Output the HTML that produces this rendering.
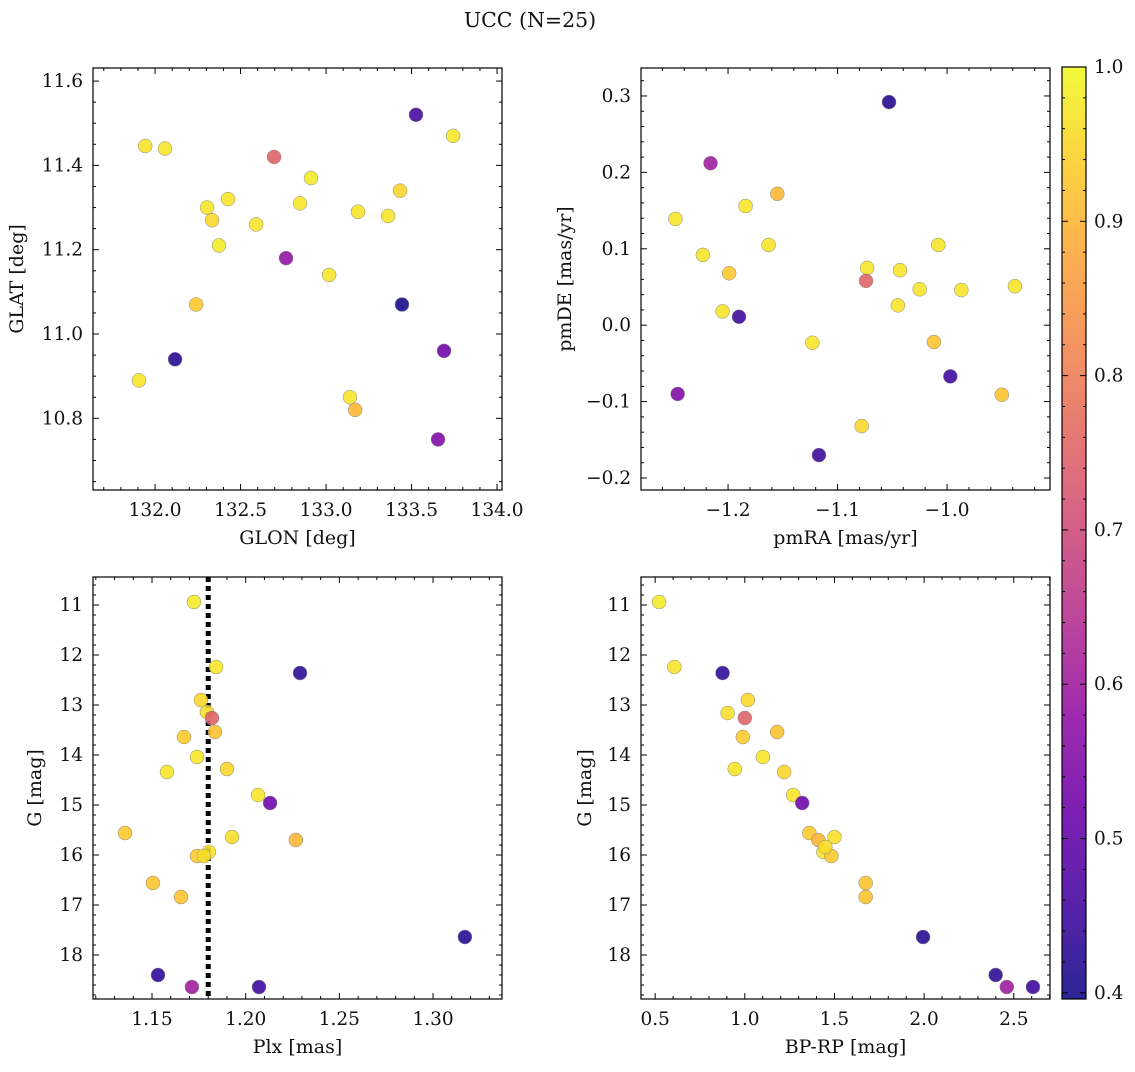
<!DOCTYPE html>
<html><head><meta charset="utf-8">
<style>
body{margin:0;background:#fff;}
svg text{font-family:"DejaVu Serif","Liberation Serif",serif;fill:#111;}
</style></head>
<body>
<svg id="fig" width="1135" height="1067" xmlns="http://www.w3.org/2000/svg">
<text x="530" y="27" font-size="20.5" text-anchor="middle">UCC (N=25)</text>
</svg>
<script>
// ---- data ----
const glon=[131.906,131.942,132.117,132.058,132.304,132.333,132.374,132.240,132.427,132.591,132.696,132.766,132.848,132.912,133.018,133.140,133.170,133.187,133.363,133.433,133.444,133.526,133.690,133.655,133.743];
const glat=[10.89,11.446,10.94,11.44,11.30,11.27,11.21,11.07,11.32,11.26,11.42,11.18,11.31,11.37,11.14,10.85,10.82,11.29,11.28,11.34,11.07,11.52,10.96,10.75,11.47];
const probPos=[0.97,0.97,0.42,0.97,0.97,0.95,0.98,0.93,0.97,0.97,0.75,0.58,0.97,0.98,0.97,0.97,0.90,0.97,0.97,0.95,0.40,0.46,0.52,0.55,0.97];
const pmra=[-1.248,-1.223,-1.199,-1.205,-1.216,-1.246,-1.190,-1.184,-1.155,-1.163,-1.123,-1.117,-1.073,-1.074,-1.078,-1.053,-1.043,-1.045,-1.025,-1.008,-1.012,-0.997,-0.987,-0.950,-0.938];
const pmde=[0.139,0.092,0.068,0.018,0.212,-0.090,0.011,0.156,0.172,0.105,-0.023,-0.170,0.075,0.058,-0.132,0.292,0.072,0.026,0.047,0.105,-0.022,-0.067,0.046,-0.091,0.051];
const probPm=[0.97,0.97,0.93,0.97,0.60,0.55,0.45,0.97,0.90,0.97,0.97,0.45,0.97,0.75,0.95,0.42,0.97,0.97,0.97,0.97,0.92,0.45,0.97,0.92,0.97];
const plx=[1.1724,1.1842,1.2290,1.1761,1.1793,1.1820,1.1836,1.1671,1.1740,1.1580,1.1900,1.2066,1.2130,1.1356,1.1927,1.2268,1.1804,1.1740,1.1777,1.1505,1.1655,1.3170,1.1532,1.1713,1.2071];
const gmag=[10.94,12.24,12.36,12.90,13.14,13.26,13.54,13.64,14.04,14.34,14.28,14.80,14.96,15.56,15.64,15.70,15.94,16.02,16.02,16.56,16.84,17.64,18.40,18.64,18.64];
const probCmd=[0.98,0.97,0.43,0.95,0.96,0.75,0.92,0.93,0.97,0.97,0.95,0.97,0.52,0.93,0.96,0.90,0.97,0.93,0.96,0.92,0.92,0.42,0.43,0.60,0.45];
const bprp=[0.522,0.607,0.876,1.017,0.904,1.000,1.180,0.989,1.101,0.944,1.219,1.270,1.320,1.360,1.500,1.410,1.438,1.483,1.449,1.674,1.674,1.994,2.399,2.461,2.607];
const gmag2=[10.94,12.24,12.36,12.90,13.16,13.26,13.54,13.64,14.04,14.28,14.34,14.80,14.96,15.56,15.64,15.70,15.94,16.02,15.84,16.56,16.84,17.64,18.40,18.64,18.64];
const plxLine=[1.18];
const cbTicks=[0.4,0.5,0.6,0.7,0.8,0.9,1.0];

const NS="http://www.w3.org/2000/svg";
const svg=document.getElementById('fig');
function mk(t,a,p){const e=document.createElementNS(NS,t);for(const k in a)e.setAttribute(k,a[k]);(p||svg).appendChild(e);return e;}
const stops=[[0,13,8,135],[0.1,65,4,157],[0.2,106,0,168],[0.3,143,13,164],[0.4,177,42,144],[0.5,204,71,120],[0.6,225,100,98],[0.7,242,132,75],[0.8,252,166,54],[0.9,252,206,37],[1,240,249,33]];
function plasma(t){t=Math.max(0,Math.min(1,t));for(let i=1;i<stops.length;i++){if(t<=stops[i][0]){const a=stops[i-1],b=stops[i],f=(t-a[0])/(b[0]-a[0]);return `rgb(${Math.round(a[1]+f*(b[1]-a[1]))},${Math.round(a[2]+f*(b[2]-a[2]))},${Math.round(a[3]+f*(b[3]-a[3]))})`;}}return 'rgb(240,249,33)';}
const vmin=0.396,vmax=1.0;
function col(p){return plasma((p-vmin)/(vmax-vmin));}
function fmt(v,d){let s=v.toFixed(d);if(s==='-0.0')s='0.0';if(s.startsWith('-'))s='\u2212'+s.slice(1);return s;}

function panel(o){
  const {x0,y0,x1,y1,xmin,xmax,ymin,ymax,inv}=o;
  const g=mk('g',{});
  
  
  const sx=v=>x0+(v-xmin)/(xmax-xmin)*(x1-x0);
  const sy=v=>inv? y0+(v-ymin)/(ymax-ymin)*(y1-y0) : y1-(v-ymin)/(ymax-ymin)*(y1-y0);
  const nsx=Math.round(o.xmaj/o.xminor), nsy=Math.round(o.ymaj/o.yminor);
  for(let k=Math.ceil(xmin/o.xminor-1e-6);k*o.xminor<=xmax+1e-9;k++){
    const v=k*o.xminor;const X=sx(v);const maj=(k%nsx===0);const L=maj?6:3;
    mk('line',{x1:X,x2:X,y1:y1,y2:y1-L,stroke:'#000','stroke-width':1},g);
    mk('line',{x1:X,x2:X,y1:y0,y2:y0+L,stroke:'#000','stroke-width':1},g);
    if(maj){const t=mk('text',{x:X,y:y1+26,'font-size':18.5,'text-anchor':'middle'},g);t.textContent=fmt(v,o.xd);
      
      }
  }
  for(let k=Math.ceil(ymin/o.yminor-1e-6);k*o.yminor<=ymax+1e-9;k++){
    const v=k*o.yminor;const Y=sy(v);const maj=(k%nsy===0);const L=maj?6:3;
    mk('line',{x1:x0,x2:x0+L,y1:Y,y2:Y,stroke:'#000','stroke-width':1},g);
    mk('line',{x1:x1,x2:x1-L,y1:Y,y2:Y,stroke:'#000','stroke-width':1},g);
    if(maj){const t=mk('text',{x:x0-10,y:Y+6,'font-size':18.5,'text-anchor':'end'},g);t.textContent=fmt(v,o.yd);
      
      }
  }
  if(o.vline){o.vline.forEach(v=>{const l=mk('line',{x1:sx(v),x2:sx(v),y1:y0,y2:y1,stroke:'#000','stroke-width':5,'stroke-dasharray':'5,4'},g);
    
    });}
  o.xs.forEach((xv,i)=>{const c=mk('circle',{cx:sx(xv),cy:sy(o.ys[i]),r:7,fill:col(o.ps[i]),'fill-opacity':0.88,stroke:'#888','stroke-width':0.5},g);
    
    });
  const fr=mk('rect',{x:x0,y:y0,width:x1-x0,height:y1-y0,fill:'none',stroke:'#000','stroke-width':1.2},g);
  
  
  const xl=mk('text',{x:(x0+x1)/2,y:y1+54,'font-size':19,'text-anchor':'middle'},g);xl.textContent=o.xlabel;
  
  
  const cy=(y0+y1)/2;
  const yl=mk('text',{x:o.ylx,y:cy,'font-size':19,'text-anchor':'middle',transform:`rotate(-90 ${o.ylx} ${cy})`},g);yl.textContent=o.ylabel;
  
  
}

panel({name:'glon-glat-panel',x0:93,y0:68,x1:502,y1:490,xmin:131.637,xmax:134.029,ymin:10.630,ymax:11.631,xmaj:0.5,xminor:0.1,ymaj:0.2,yminor:0.05,xd:1,yd:1,xs:glon,ys:glat,ps:probPos,xlabel:'GLON [deg]',ylabel:'GLAT [deg]',ylx:23});
panel({name:'pm-panel',x0:641,y0:68,x1:1050,y1:490,xmin:-1.2795,xmax:-0.906,ymin:-0.2157,ymax:0.3366,xmaj:0.1,xminor:0.02,ymaj:0.1,yminor:0.02,xd:1,yd:1,xs:pmra,ys:pmde,ps:probPm,xlabel:'pmRA [mas/yr]',ylabel:'pmDE [mas/yr]',ylx:571});
panel({name:'plx-g-panel',x0:93,y0:577,x1:502,y1:999,xmin:1.1185,xmax:1.3368,ymin:10.44,ymax:18.88,inv:true,xmaj:0.05,xminor:0.01,ymaj:1,yminor:0.2,xd:2,yd:0,xs:plx,ys:gmag,ps:probCmd,xlabel:'Plx [mas]',ylabel:'G [mag]',ylx:41,vline:plxLine});
panel({name:'cmd-panel',x0:641,y0:577,x1:1050,y1:999,xmin:0.421,xmax:2.702,ymin:10.44,ymax:18.88,inv:true,xmaj:0.5,xminor:0.1,ymaj:1,yminor:0.2,xd:1,yd:0,xs:bprp,ys:gmag2,ps:probCmd,xlabel:'BP-RP [mag]',ylabel:'G [mag]',ylx:591});

// colorbar
const cb=mk('g',{});


const cx0=1062,cx1=1086,cy0=67,cy1=999;
const defs=mk('defs',{},cb);
const lg=mk('linearGradient',{id:'cbg',x1:0,y1:1,x2:0,y2:0},defs);
for(let i=0;i<=20;i++){const f=i/20;mk('stop',{offset:f,'stop-color':plasma(f)},lg);}
mk('rect',{x:cx0,y:cy0,width:cx1-cx0,height:cy1-cy0,fill:'url(#cbg)','fill-opacity':0.88},cb);
const cyv=v=>cy1-(v-vmin)/(vmax-vmin)*(cy1-cy0);
for(let k=20;k<=50;k++){const v=k*0.02;const Y=cyv(v);const maj=(k%5===0);
  mk('line',{x1:cx1,x2:cx1-(maj?6:3),y1:Y,y2:Y,stroke:'#000'},cb);
  mk('line',{x1:cx0,x2:cx0+(maj?6:3),y1:Y,y2:Y,stroke:'#000'},cb);}
cbTicks.forEach(v=>{const t=mk('text',{x:1094,y:cyv(v)+6,'font-size':18.5},cb);t.textContent=v.toFixed(1);
  
  });
mk('rect',{x:cx0,y:cy0,width:cx1-cx0,height:cy1-cy0,fill:'none',stroke:'#000','stroke-width':1.2},cb);
</script>
</body></html>
